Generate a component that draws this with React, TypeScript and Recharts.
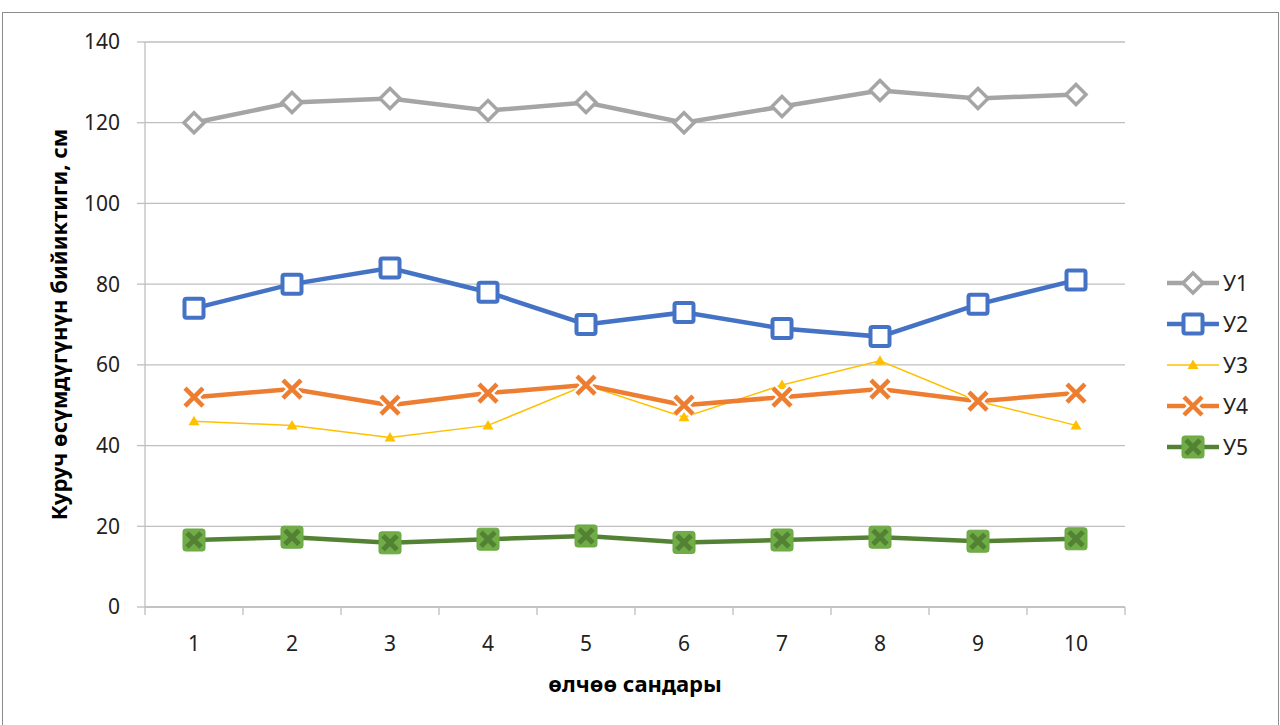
import { ComposedChart, Line, XAxis, YAxis, CartesianGrid } from 'recharts';

const categories = ['1', '2', '3', '4', '5', '6', '7', '8', '9', '10'];
const y1 = [120, 125, 126, 123, 125, 120, 124, 128, 126, 127];
const y2 = [74, 80, 84, 78, 70, 73, 69, 67, 75, 81];
const y3 = [46, 45, 42, 45, 55, 47, 55, 61, 51, 45];
const y4 = [52, 54, 50, 53, 55, 50, 52, 54, 51, 53];
const y5 = [16.6, 17.3, 15.9, 16.8, 17.6, 16, 16.6, 17.3, 16.3, 16.9];
const yTicks = [0, 20, 40, 60, 80, 100, 120, 140];

const data = categories.map((c, i) => ({ x: c, y1: y1[i], y2: y2[i], y3: y3[i], y4: y4[i], y5: y5[i] }));

const FONT = "'Noto Sans', 'Open Sans', sans-serif";
const W = 1280;
const H = 725;
const Y_AXIS_W = 60;
const margin = { top: 42, right: 155, bottom: 88, left: 85 };
const halfBand = (W - margin.left - Y_AXIS_W - margin.right) / categories.length / 2;

const Diamond = ({ cx, cy }: any) => (
  <path d={`M${cx},${cy - 10} L${cx + 10},${cy} L${cx},${cy + 10} L${cx - 10},${cy} Z`} fill="#fff" stroke="#A5A5A5" strokeWidth={3.5} />
);
const Square = ({ cx, cy }: any) => (
  <rect x={cx - 9.5} y={cy - 9.5} width={19} height={19} rx={2} fill="#fff" stroke="#4472C4" strokeWidth={4} />
);
const Triangle = ({ cx, cy }: any) => (
  <path d={`M${cx},${cy - 5.5} L${cx + 5.5},${cy + 4} L${cx - 5.5},${cy + 4} Z`} fill="#FFC000" />
);
const Cross = ({ cx, cy }: any) => {
  const d = `M${cx - 9},${cy - 9} L${cx + 9},${cy + 9} M${cx + 9},${cy - 9} L${cx - 9},${cy + 9}`;
  return (
    <g>
      <path d={d} stroke="#fff" strokeWidth={9} />
      <path d={d} stroke="#ED7D31" strokeWidth={4.5} />
    </g>
  );
};
const GreenBox = ({ cx, cy }: any) => (
  <g>
    <rect x={cx - 11} y={cy - 11} width={22} height={22} rx={2.5} fill="#70AD47" stroke="#6aa843" strokeWidth={1} />
    <path d={`M${cx - 7},${cy - 7} L${cx + 7},${cy + 7} M${cx + 7},${cy - 7} L${cx - 7},${cy + 7}`} stroke="#548235" strokeWidth={5} />
  </g>
);

const series = [
  { key: 'y1', name: 'У1', color: '#A5A5A5', width: 4.5, Dot: Diamond },
  { key: 'y2', name: 'У2', color: '#4472C4', width: 4.5, Dot: Square },
  { key: 'y3', name: 'У3', color: '#FFC000', width: 1.5, Dot: Triangle },
  { key: 'y4', name: 'У4', color: '#ED7D31', width: 4.5, Dot: Cross },
  { key: 'y5', name: 'У5', color: '#548235', width: 4.5, Dot: GreenBox },
];

const XTick = ({ x, y, payload, index }: any) => (
  <g>
    <line x1={x - halfBand} y1={y} x2={x - halfBand} y2={y + 8} stroke="#BFBFBF" strokeWidth={1.3} />
    {index === categories.length - 1 && (
      <line x1={x + halfBand} y1={y} x2={x + halfBand} y2={y + 8} stroke="#BFBFBF" strokeWidth={1.3} />
    )}
    <text x={x} y={y + 44} textAnchor="middle" fontSize={21} fill="#222" fontFamily={FONT}>
      {payload.value}
    </text>
  </g>
);

export default function App() {
  return (
    <div style={{ position: 'fixed', left: 0, top: 0, width: W, height: H, background: '#fff', fontFamily: FONT }}>
      <div style={{ position: 'absolute', left: 2, top: 12, width: 1275, height: 720, border: '1.5px solid #8c8c8c' }} />
      <ComposedChart width={W} height={H} data={data} margin={margin} style={{ position: 'absolute', left: 0, top: 0 }}>
        <CartesianGrid vertical={false} stroke="#BFBFBF" strokeWidth={1.3} />
        <XAxis
          dataKey="x"
          padding={{ left: halfBand, right: halfBand }}
          axisLine={{ stroke: '#BFBFBF', strokeWidth: 1.3 }}
          tickLine={false}
          tickSize={0}
          tickMargin={0}
          interval={0}
          tick={<XTick />}
          label={{
            content: ({ viewBox }: any) => (
              <text x={viewBox.x + viewBox.width / 2} y={viewBox.y + 85} textAnchor="middle" fontSize={22} fontWeight="bold" fill="#000" fontFamily={FONT}>
                өлчөө сандары
              </text>
            ),
          }}
        />
        <YAxis
          domain={[0, 140]}
          ticks={yTicks}
          width={Y_AXIS_W}
          axisLine={{ stroke: '#BFBFBF', strokeWidth: 1.3 }}
          tickLine={{ stroke: '#BFBFBF', strokeWidth: 1.3 }}
          tickSize={8}
          tickMargin={17}
          tick={{ fontSize: 21, fill: '#222', fontFamily: FONT }}
          label={{
            content: ({ viewBox }: any) => {
              const cx = viewBox.x - 27;
              const cy = viewBox.y + viewBox.height / 2;
              return (
                <text x={cx} y={cy} transform={`rotate(-90 ${cx} ${cy})`} textAnchor="middle" dominantBaseline="central" fontSize={22} fontWeight="bold" fill="#000" fontFamily={FONT}>
                  Куруч өсүмдүгүнүн бийиктиги, см
                </text>
              );
            },
          }}
        />
        {series.map((s) => (
          <Line
            key={s.key}
            dataKey={s.key}
            name={s.name}
            stroke={s.color}
            strokeWidth={s.width}
            dot={(p: any) => <s.Dot key={`${s.key}-${p.index}`} cx={p.cx} cy={p.cy} />}
            activeDot={false}
            isAnimationActive={false}
          />
        ))}
      </ComposedChart>
      <div style={{ position: 'absolute', left: 1166, top: 262 }}>
        {series.map((s) => (
          <div key={s.key} style={{ display: 'flex', alignItems: 'center', height: 41 }}>
            <svg width={54} height={30}>
              <line x1={1} y1={15} x2={53} y2={15} stroke={s.color} strokeWidth={s.width} />
              <s.Dot cx={27} cy={15} />
            </svg>
            <span style={{ fontSize: 21, color: '#222', marginLeft: 3 }}>{s.name}</span>
          </div>
        ))}
      </div>
    </div>
  );
}
